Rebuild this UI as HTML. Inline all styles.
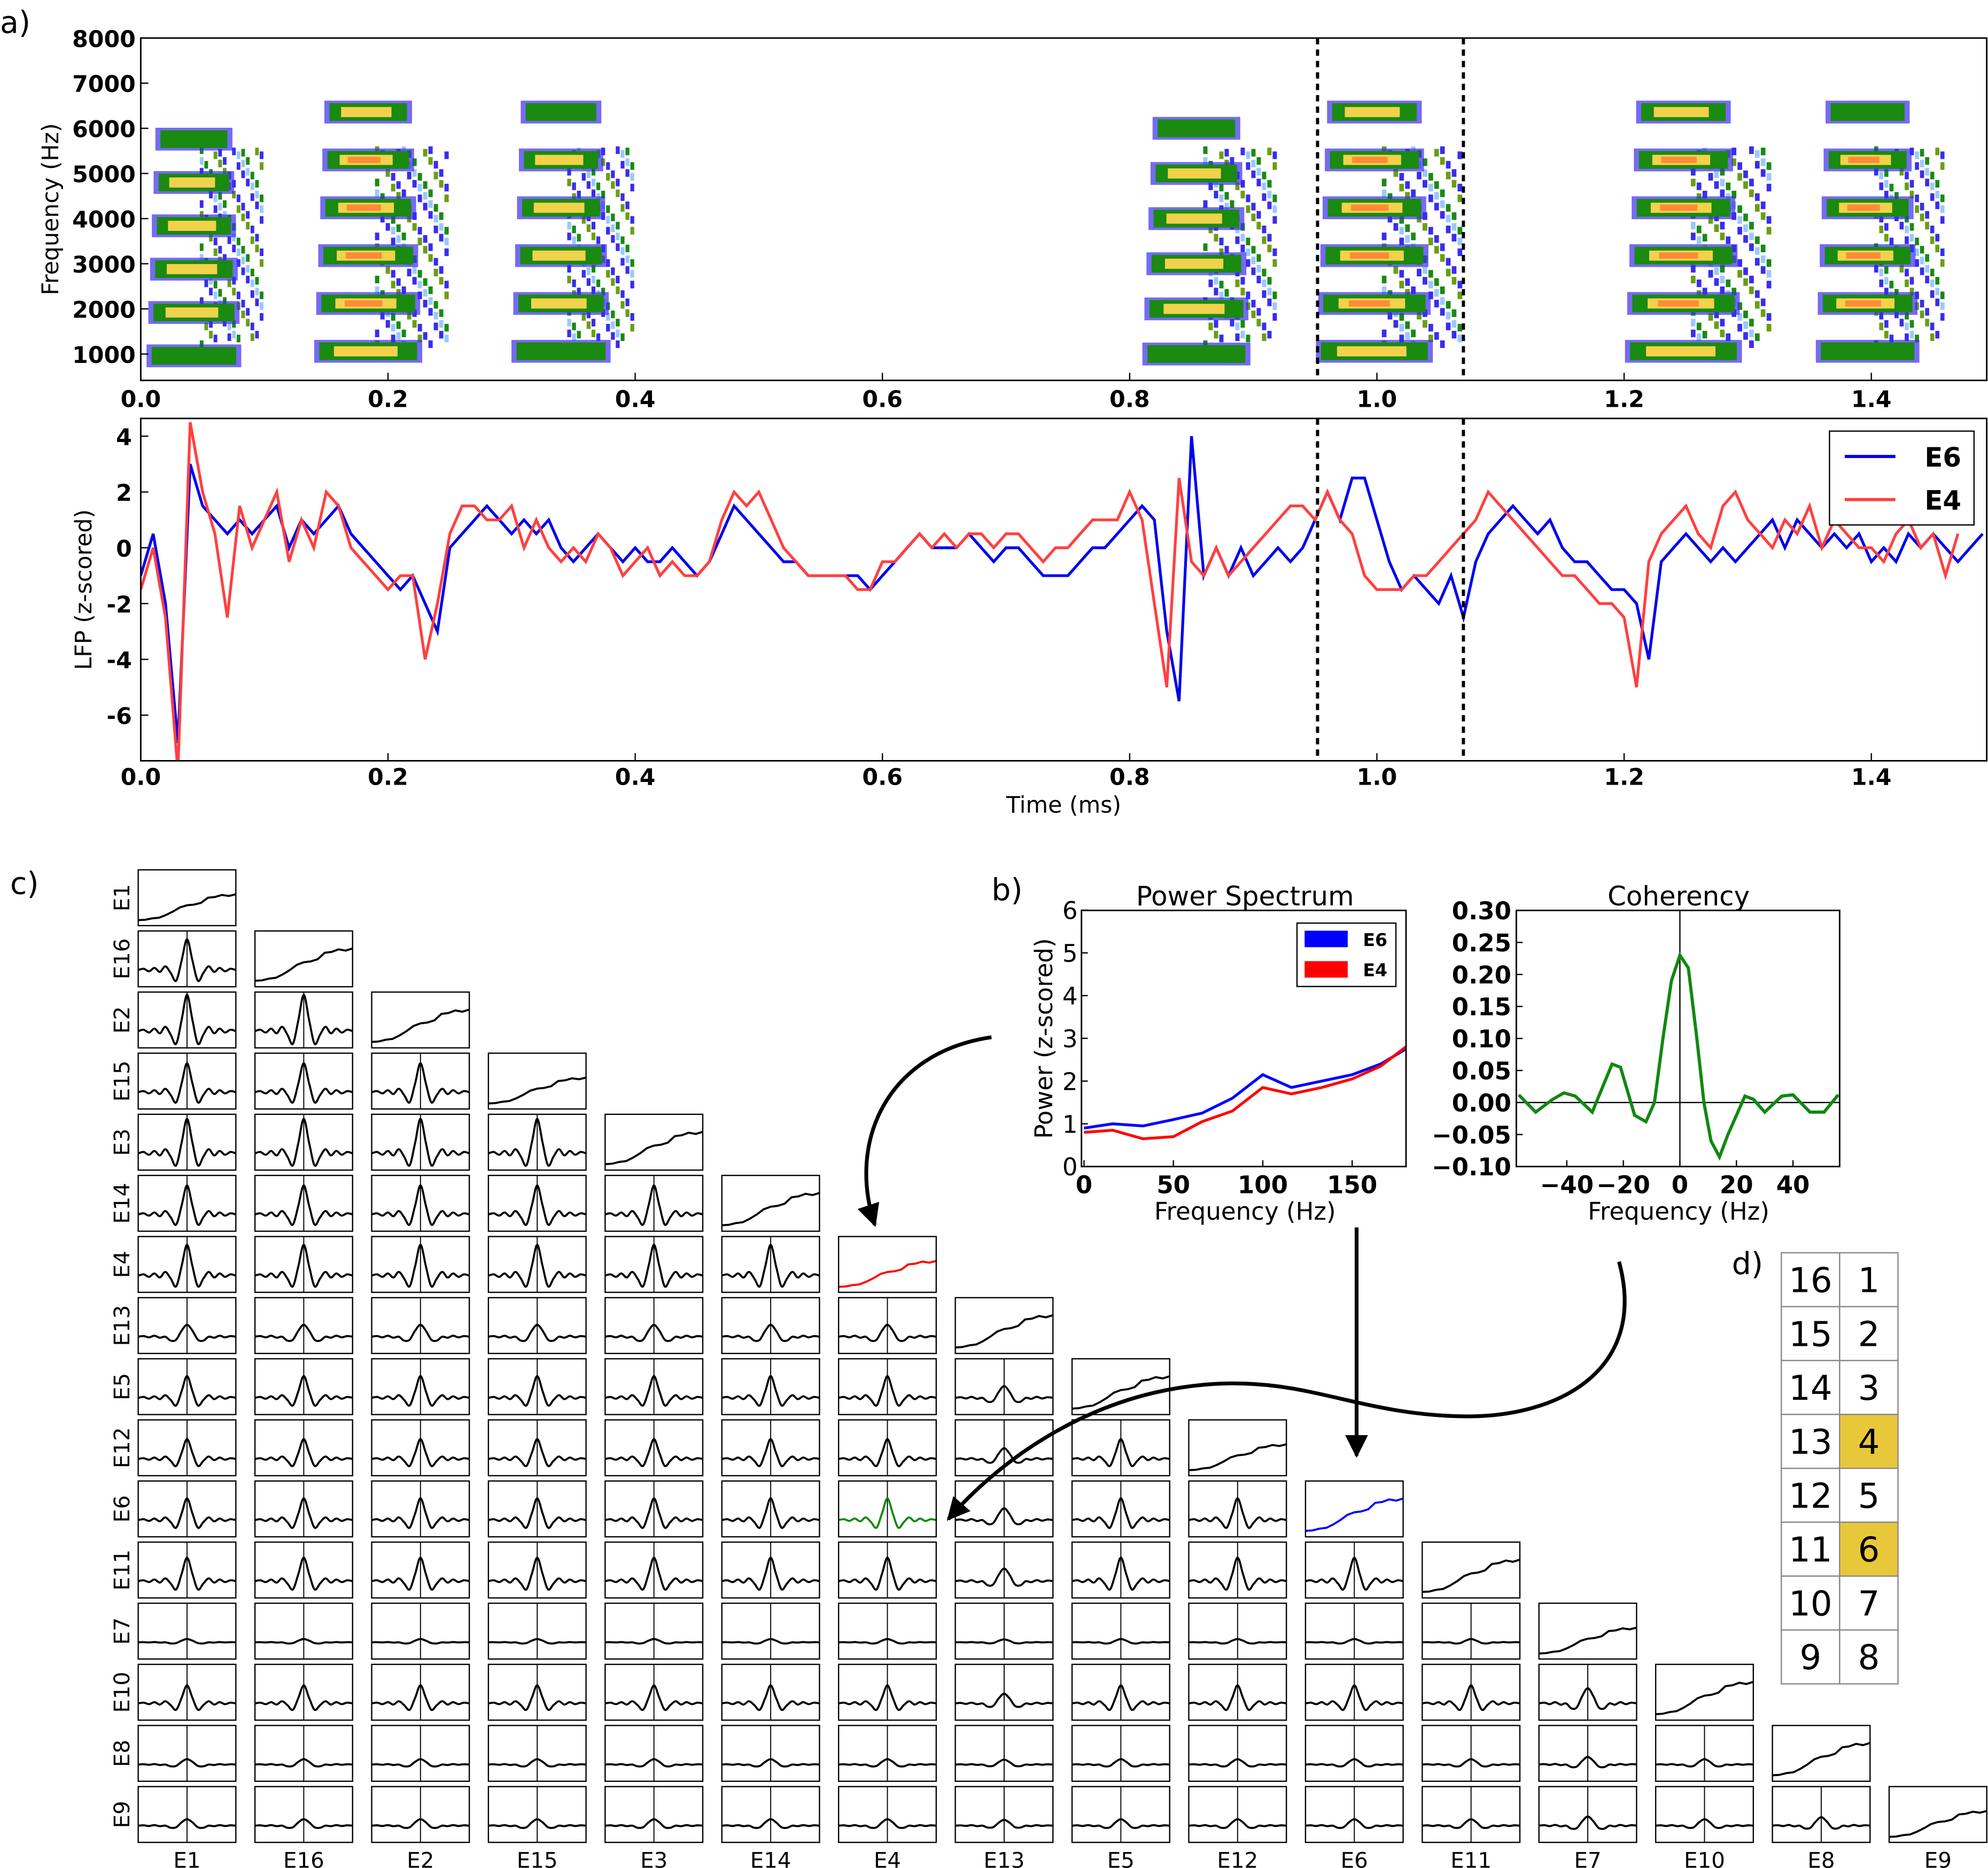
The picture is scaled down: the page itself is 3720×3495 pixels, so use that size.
<!DOCTYPE html>
<html><head><meta charset="utf-8"><style>
html,body{margin:0;padding:0;background:#fff}
svg{display:block}
text{font-family:"DejaVu Sans","Liberation Sans",sans-serif}
</style></head><body>
<svg id="fig" width="3720" height="3495" viewBox="0 0 1568 1473.2" xmlns="http://www.w3.org/2000/svg">
<defs>
<marker id="ah" viewBox="0 0 10 10" refX="9" refY="5" markerWidth="6" markerHeight="6" orient="auto"><path d="M0,0 L10,5 L0,10 z" fill="#000"/></marker>
</defs>
<text x="0" y="26" font-size="24">a)</text>
<text x="782" y="710" font-size="24">b)</text>
<text x="8" y="705" font-size="24">c)</text>
<text x="1366" y="1005" font-size="24">d)</text>
<g id="gSpec"></g>
<g id="gLfp"></g>
<g id="gPs"></g>
<g id="gCoh"></g>
<g id="gGrid"></g>
<g id="gTab"></g>
<path d="M782,818 C700,830 668,900 690,966" fill="none" stroke="#000" stroke-width="3" marker-end="url(#ah)"/>
<path d="M1070,968 L1070,1148" fill="none" stroke="#000" stroke-width="3" marker-end="url(#ah)"/>
<path d="M1277,995 C1300,1080 1230,1118 1155,1117 C1070,1116 1030,1085 950,1092 C860,1100 790,1150 748,1198" fill="none" stroke="#000" stroke-width="3" marker-end="url(#ah)"/>
</svg>
<script>
const NS="http://www.w3.org/2000/svg";
function mk(p,tag,a,txt){const e=document.createElementNS(NS,tag);for(const k in a)e.setAttribute(k,a[k]);if(txt!==undefined)e.textContent=txt;p.appendChild(e);return e;}
function smooth(P){let d='M'+P[0][0].toFixed(1)+','+P[0][1].toFixed(1);
 for(let i=0;i<P.length-1;i++){const p0=P[Math.max(0,i-1)],p1=P[i],p2=P[i+1],p3=P[Math.min(P.length-1,i+2)];
  const c1=[p1[0]+(p2[0]-p0[0])/6,p1[1]+(p2[1]-p0[1])/6],c2=[p2[0]-(p3[0]-p1[0])/6,p2[1]-(p3[1]-p1[1])/6];
  d+=` C${c1[0].toFixed(1)},${c1[1].toFixed(1)} ${c2[0].toFixed(1)},${c2[1].toFixed(1)} ${p2[0].toFixed(1)},${p2[1].toFixed(1)}`;}
 return d;}

// ---------- Panel a data ----------
const specFreqTicks=[1000,2000,3000,4000,5000,6000,7000,8000];
const timeTicks=[0.0,0.2,0.4,0.6,0.8,1.0,1.2,1.4];
const sylStart=[0.005,0.14,0.30,0.81,0.95,1.20,1.355];
const sylEnd=[0.10,0.25,0.40,0.92,1.07,1.32,1.46];
const sylF0=[960,1060,1060,1000,1060,1060,1060];
const sylPower=[0.7,0.9,0.75,0.6,0.85,0.85,0.8];
const markers=[0.952,1.07];
const lfpTicks=[4,2,0,-2,-4,-6];
const lfpT=[];for(let i=0;i<150;i++)lfpT.push(i/100);
const e6=[-1,0.5,-2,-7,3,1.5,1,0.5,1,0.5,1,1.5,0,1,0.5,1,1.5,0.5,0,-0.5,-1,-1.5,-1,-2,-3,0,0.5,1,1.5,1,0.5,1,0.5,1,0,-0.5,0,0.5,0,-0.5,0,-0.5,-0.5,0,-0.5,-1,-0.5,0.5,1.5,1,0.5,0,-0.5,-0.5,-1,-1,-1,-1,-1,-1.5,-1,-0.5,0,0.5,0,0,0,0.5,0,-0.5,0,0,-0.5,-1,-1,-1,-0.5,0,0,0.5,1,1.5,1,-3,-5.5,4,-1,0,-1,0,-1,-0.5,0,-0.5,0,1,2,1,2.5,2.5,1,-0.5,-1.5,-1,-1.5,-2,-1,-2.5,-0.5,0.5,1,1.5,1,0.5,1,0,-0.5,-0.5,-1,-1.5,-1.5,-2,-4,-0.5,0,0.5,0,-0.5,0,-0.5,0,0.5,1,0,1,0.5,0,0.5,0,0.5,-0.5,0,-0.5,0.5,0,0.5,0,-0.5,0,0.5,0];
const e4=[-1.5,0,-2.5,-8,4.5,2,0.5,-2.5,1.5,0,1,2,-0.5,1,0,2,1.5,0,-0.5,-1,-1.5,-1,-1,-4,-2,0.5,1.5,1.5,1,1,1.5,0,1,0,-0.5,0,-0.5,0.5,0,-1,-0.5,0,-1,-0.5,-1,-1,-0.5,1,2,1.5,2,1,0,-0.5,-1,-1,-1,-1,-1.5,-1.5,-0.5,-0.5,0,0.5,0,0.5,0,0.5,0.5,0,0.5,0.5,0,-0.5,0,0,0.5,1,1,1,2,1,-2,-5,2.5,-0.5,-1,0,-1,-0.5,0,0.5,1,1.5,1.5,1,2,1,0.5,-1,-1.5,-1.5,-1.5,-1,-1,-0.5,0,0.5,1,2,1.5,1,0.5,0,-0.5,-1,-1,-1.5,-2,-2,-2.5,-5,-0.5,0.5,1,1.5,0.5,0,1.5,2,1,0.5,0,1,0.5,1.5,0,1,0.5,0,0,-0.5,0.5,1,0,0.5,-1,0.5];

const sx=t=>111+t*975, sy=f=>30+(8000-f)*0.0356, ly=v=>432-v*22;

(function(){
 const g=document.getElementById('gSpec');
 const spCols=['#1a8a10','#3a2cf0','#9cc8ff','#6a9f10','#3a2cf0','#c8e8ff'];
 for(let s=0;s<sylStart.length;s++){
  const sg=mk(g,'g',{});
  
  
  const x0=sx(sylStart[s]), x1=sx(sylEnd[s]), w=x1-x0;
  for(let i=0;i<14;i++){for(let j=0;j<26;j++){
    const h=(i*7+j*11+s*3)%9; if(h>4)continue;
    const xx=x0+w*0.45+i*w*0.55/14, yy=sy(5600)+j*8.5+((i*3)%5);
    if(yy>sy(1300))continue;
    mk(sg,'rect',{x:xx,y:yy,width:w*0.55/14*0.8,height:6,fill:spCols[h]});
  }}
  for(let k=1;k<=6;k++){
   const f=sylF0[s]*k; if(f>7000)continue;
   const shrink=(k-1)*0.015;
   const bx=x0+w*(0.04+shrink), bw=w*(0.72-shrink*2);
   const yc=sy(f);
   mk(sg,'rect',{x:bx-4,y:yc-9,width:bw+8,height:18,fill:'#3a2cf0',opacity:0.7});
   mk(sg,'rect',{x:bx,y:yc-7,width:bw,height:14,fill:'#1a8a10'});
   const p=sylPower[s]*(k>=2&&k<=5?1:0.5);
   if(p>0.4) mk(sg,'rect',{x:bx+bw*0.15,y:yc-4,width:bw*0.65,height:8,fill:'#f2d24a'});
   if(p>0.75) mk(sg,'rect',{x:bx+bw*0.25,y:yc-2.5,width:bw*0.4,height:5,fill:'#ff8a3a'});
  }
 }
 mk(g,'rect',{x:111,y:30,width:1456,height:270,fill:'none',stroke:'#000','stroke-width':1.2});
 const gl=mk(g,'g',{});  
 specFreqTicks.forEach(f=>{const y=sy(f);mk(gl,'line',{x1:111,x2:117,y1:y,y2:y,stroke:'#000'});
  mk(gl,'text',{x:107,y:y+7,'font-size':18,'font-weight':'bold','text-anchor':'end'},String(f));});
 timeTicks.forEach(t=>{const x=sx(t);mk(gl,'line',{x1:x,x2:x,y1:300,y2:294,stroke:'#000'});
  mk(gl,'text',{x:x,y:321,'font-size':18,'font-weight':'bold','text-anchor':'middle'},t.toFixed(1));});
 const yt=mk(g,'text',{transform:'translate(46,165) rotate(-90)','font-size':18,'text-anchor':'middle'},'Frequency (Hz)');
  
 markers.forEach(t=>{const l=mk(g,'line',{x1:sx(t),x2:sx(t),y1:30,y2:300,stroke:'#000','stroke-width':2.5,'stroke-dasharray':'5,4'});
   });
})();

(function(){
 const g=document.getElementById('gLfp');
 const cp=mk(g,'clipPath',{id:'lc'}); mk(cp,'rect',{x:111,y:330,width:1456,height:270});
 const pts=a=>a.map((v,i)=>sx(lfpT[i]).toFixed(1)+','+ly(v).toFixed(1)).join(' ');
 const b=mk(g,'polyline',{points:pts(e6),fill:'none',stroke:'#0000ee','stroke-width':2.2,'clip-path':'url(#lc)'});
  
 const r=mk(g,'polyline',{points:pts(e4),fill:'none',stroke:'#ff4040','stroke-width':2.2,'clip-path':'url(#lc)'});
  
 mk(g,'rect',{x:111,y:330,width:1456,height:270,fill:'none',stroke:'#000','stroke-width':1.2});
 lfpTicks.forEach(v=>{const y=ly(v);mk(g,'line',{x1:111,x2:117,y1:y,y2:y,stroke:'#000'});
  mk(g,'text',{x:104,y:y+7,'font-size':18,'font-weight':'bold','text-anchor':'end'},String(v));});
 timeTicks.forEach(t=>{const x=sx(t);mk(g,'line',{x1:x,x2:x,y1:600,y2:594,stroke:'#000'});
  mk(g,'text',{x:x,y:619,'font-size':18,'font-weight':'bold','text-anchor':'middle'},t.toFixed(1));});
 markers.forEach(t=>{mk(g,'line',{x1:sx(t),x2:sx(t),y1:330,y2:600,stroke:'#000','stroke-width':2.5,'stroke-dasharray':'5,4'});});
 const yt=mk(g,'text',{transform:'translate(72,465) rotate(-90)','font-size':18,'text-anchor':'middle'},'LFP (z-scored)');
  
 const xt=mk(g,'text',{x:839,y:641,'font-size':18,'text-anchor':'middle'},'Time (ms)');
  
 const lg=mk(g,'g',{});  
 mk(lg,'rect',{x:1443,y:340,width:114,height:74,fill:'#fff',stroke:'#000'});
 mk(lg,'line',{x1:1455,x2:1495,y1:360,y2:360,stroke:'#0000ee','stroke-width':2.5});
 mk(lg,'line',{x1:1455,x2:1495,y1:394,y2:394,stroke:'#ff4040','stroke-width':2.5});
 mk(lg,'text',{x:1518,y:368,'font-size':21,'font-weight':'bold'},'E6');
 mk(lg,'text',{x:1518,y:402,'font-size':21,'font-weight':'bold'},'E4');
})();

// ---------- Panel b ----------
const psFreq=[0,16,33,50,66,83,100,116,133,150,166,180];
const psE6=[0.9,1.0,0.95,1.1,1.25,1.6,2.15,1.85,2.0,2.15,2.4,2.75];
const psE4=[0.8,0.85,0.65,0.7,1.05,1.3,1.85,1.7,1.85,2.05,2.35,2.8];
const psXTicks=[0,50,100,150];
const psYTicks=[0,1,2,3,4,5,6];
const cohFreq=[-57,-51,-45,-41,-37,-31,-24,-21,-16,-12,-9,-6,-3,0,3,6,8.5,11,14,17,23,26,30,36,40,46,51,56];
const cohVal=[0.012,-0.015,0.005,0.015,0.01,-0.015,0.06,0.055,-0.02,-0.03,0.0,0.1,0.19,0.23,0.21,0.1,0.0,-0.06,-0.085,-0.05,0.01,0.005,-0.015,0.01,0.012,-0.015,-0.015,0.012];
const cohXTicks=[-40,-20,0,20,40];
const cohYTicks=[0.30,0.25,0.20,0.15,0.10,0.05,0.00,-0.05,-0.10];
const px=f=>855+f*1.41, py=v=>920-v*33.7, cx=f=>1325+f*2.23, cy=v=>869.5-v*505;

(function(){
 const g=document.getElementById('gPs');
 const line=(a,c,n)=>{const l=mk(g,'polyline',{points:a.map((v,i)=>px(psFreq[i])+','+py(v)).join(' '),fill:'none',stroke:c,'stroke-width':2.2});
   };
 line(psE6,'#0000ff','ps-e6-line'); line(psE4,'#ff0000','ps-e4-line');
 mk(g,'rect',{x:853,y:718,width:256,height:202,fill:'none',stroke:'#000','stroke-width':1.2});
 psXTicks.forEach(f=>{mk(g,'line',{x1:px(f),x2:px(f),y1:920,y2:915,stroke:'#000'});
  mk(g,'text',{x:px(f),y:941,'font-size':19,'font-weight':'bold','text-anchor':'middle'},String(f));});
 psYTicks.forEach(v=>{mk(g,'line',{x1:853,x2:858,y1:py(v),y2:py(v),stroke:'#000'});
  mk(g,'text',{x:850,y:py(v)+7,'font-size':19,'text-anchor':'end'},String(v));});
 mk(g,'text',{x:982,y:714,'font-size':21,'text-anchor':'middle'},'Power Spectrum');
 mk(g,'text',{x:982,y:962,'font-size':19,'text-anchor':'middle'},'Frequency (Hz)');
 mk(g,'text',{transform:'translate(830,819) rotate(-90)','font-size':19,'text-anchor':'middle'},'Power (z-scored)');
 const lg=mk(g,'g',{});  
 mk(lg,'rect',{x:1023,y:728,width:78,height:50,fill:'#fff',stroke:'#000'});
 mk(lg,'rect',{x:1029,y:734,width:34,height:13,fill:'#0000ff'});
 mk(lg,'rect',{x:1029,y:758,width:34,height:13,fill:'#ff0000'});
 mk(lg,'text',{x:1075,y:746,'font-size':14,'font-weight':'bold'},'E6');
 mk(lg,'text',{x:1075,y:770,'font-size':14,'font-weight':'bold'},'E4');
})();
(function(){
 const g=document.getElementById('gCoh');
 mk(g,'line',{x1:1196,x2:1451,y1:cy(0),y2:cy(0),stroke:'#000'});
 mk(g,'line',{x1:cx(0),x2:cx(0),y1:718,y2:920,stroke:'#000'});
 const l=mk(g,'polyline',{points:cohFreq.map((f,i)=>cx(f)+','+cy(cohVal[i])).join(' '),fill:'none',stroke:'#118811','stroke-width':2.5});
  
 mk(g,'rect',{x:1196,y:718,width:255,height:202,fill:'none',stroke:'#000','stroke-width':1.2});
 cohXTicks.forEach(f=>{mk(g,'line',{x1:cx(f),x2:cx(f),y1:920,y2:915,stroke:'#000'});
  mk(g,'text',{x:cx(f),y:941,'font-size':19,'font-weight':'bold','text-anchor':'middle'},(f<0?'\u2212':'')+Math.abs(f));});
 cohYTicks.forEach(v=>{mk(g,'line',{x1:1196,x2:1201,y1:cy(v),y2:cy(v),stroke:'#000'});
  mk(g,'text',{x:1192,y:cy(v)+7,'font-size':19,'font-weight':'bold','text-anchor':'end'},(v<0?'\u2212':'')+Math.abs(v).toFixed(2));});
 mk(g,'text',{x:1324,y:714,'font-size':21,'text-anchor':'middle'},'Coherency');
 mk(g,'text',{x:1324,y:962,'font-size':19,'text-anchor':'middle'},'Frequency (Hz)');
})();

// ---------- Panel c ----------
const elecs=['E1','E16','E2','E15','E3','E14','E4','E13','E5','E12','E6','E11','E7','E10','E8','E9'];
const rowAmp=[0,0.85,1.0,0.8,0.95,0.8,0.85,0.55,0.6,0.55,0.6,0.65,0.15,0.5,0.25,0.3];
const colAmp=[1,1,1,1,1,1,1,0.9,1,1,1,1,1.4,1,1.3,1];
const broadElecs=['E13','E7','E8','E9'];
const sharpShape=[0,0.04,-0.04,0.07,-0.06,0.12,-0.1,-0.35,0.3,1,0.3,-0.35,-0.1,0.12,-0.06,0.07,-0.04,0.04,0];
const broadShape=[0,0.03,-0.03,0.05,-0.05,0,-0.2,-0.15,0.3,0.6,0.3,-0.15,-0.2,0,-0.05,0.05,-0.03,0.03,0];
const specShape=[0.05,0.06,0.1,0.12,0.2,0.3,0.42,0.48,0.5,0.55,0.7,0.72,0.78,0.75,0.8];
(function(){
 const g=document.getElementById('gGrid');
 const X0=109,Y0=686,DX=92.07,DY=48.2,W=77,H=44;
 for(let r=0;r<16;r++){
  const lab=mk(g,'text',{transform:`translate(102,${Y0+r*DY+H/2}) rotate(-90)`,'font-size':17,'text-anchor':'middle'},elecs[r]);
   
  for(let c=0;c<=r;c++){
   const x=X0+c*DX,y=Y0+r*DY;
   const cg=mk(g,'g',{});
   
   
   if(c===r){
    const col=elecs[r]==='E4'?'#ff0000':elecs[r]==='E6'?'#0000ff':'#000';
    const sc=(r%3===0?0.8:1);
    mk(cg,'polyline',{points:specShape.map((v,i)=>(x+i*W/(specShape.length-1))+','+(y+H-3-v*sc*(H-10))).join(' '),fill:'none',stroke:col,'stroke-width':1.6});
   } else {
    mk(cg,'line',{x1:x+W/2,x2:x+W/2,y1:y,y2:y+H,stroke:'#000','stroke-width':0.8});
    const broad=broadElecs.includes(elecs[r])||broadElecs.includes(elecs[c]);
    const sh=broad?broadShape:sharpShape;
    let a=rowAmp[r]*(broad?colAmp[c]:1); a=Math.min(a,1);
    const col=(elecs[r]==='E6'&&elecs[c]==='E4')?'#118811':'#000';
    const base=y+H*0.7;
    const P=sh.map((v,i)=>[x+i*W/(sh.length-1),base-v*a*(H*0.65)]);
    mk(cg,'path',{d:smooth(P),fill:'none',stroke:col,'stroke-width':1.6});
   }
   mk(cg,'rect',{x:x,y:y,width:W,height:H,fill:'none',stroke:'#000','stroke-width':1});
  }
 }
 for(let c=0;c<16;c++){
  const t=mk(g,'text',{x:X0+c*DX+W/2,y:1473,'font-size':17,'text-anchor':'middle'},elecs[c]);
   
 }
})();

// ---------- Panel d ----------
const leftCol=[16,15,14,13,12,11,10,9];
const rightCol=[1,2,3,4,5,6,7,8];
const highlighted=[4,6];
(function(){
 const g=document.getElementById('gTab');
 for(let i=0;i<8;i++){
  const y=988+i*42.5;
  [[leftCol[i],1405],[rightCol[i],1451]].forEach(([n,x])=>{
   const cg=mk(g,'g',{});
   
   
   mk(cg,'rect',{x:x,y:y,width:46,height:42.5,fill:highlighted.includes(n)?'#e8c83a':'#fff',stroke:'#888'});
   mk(cg,'text',{x:x+23,y:y+31,'font-size':27,'text-anchor':'middle'},String(n));
  });
 }
})();
</script>
</body></html>
